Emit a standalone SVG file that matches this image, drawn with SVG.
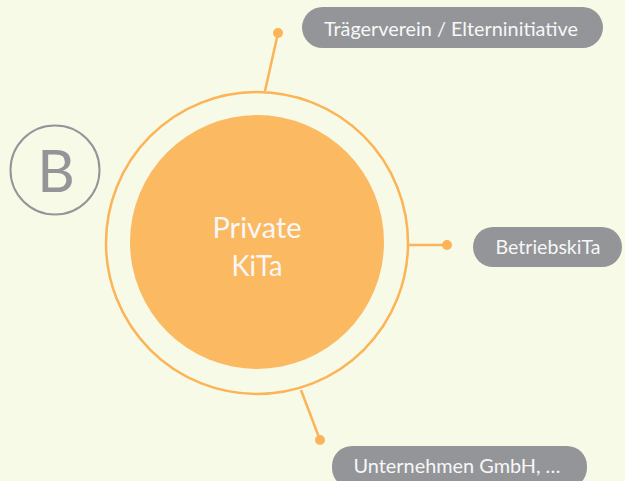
<svg xmlns="http://www.w3.org/2000/svg" width="625" height="481" viewBox="0 0 625 481">
<style>
.pill{fill:#939598}
.pt{font-family:Lato,"Open Sans",sans-serif;fill:#F7F7F7;text-anchor:middle}
.con{stroke:#FBB457;stroke-width:2.5;fill:none}
.dot{fill:#FBB457}
</style>
<rect width="625" height="481" fill="#F8FAE8"/>
<g id="connectors">
<line class="con" x1="265" y1="91" x2="278" y2="33"/>
<line class="con" x1="408" y1="245" x2="447" y2="245"/>
<line class="con" x1="301" y1="390" x2="320" y2="440"/>
<circle class="dot" cx="278" cy="33" r="5"/>
<circle class="dot" cx="447" cy="245" r="5"/>
<circle class="dot" cx="320" cy="440" r="5"/>
</g>
<g id="center">
<circle cx="257" cy="243" r="151" fill="none" stroke="#FBB457" stroke-width="2.5"/>
<circle cx="257" cy="242" r="127" fill="#FBBA62"/>
<text class="pt" x="257" y="238" font-size="28" textLength="89" lengthAdjust="spacingAndGlyphs">Private</text>
<text class="pt" x="257" y="276" font-size="28" textLength="51" lengthAdjust="spacingAndGlyphs">KiTa</text>
</g>
<g id="label-b">
<circle cx="55" cy="170" r="44.5" fill="none" stroke="#939598" stroke-width="2"/>
<text x="56" y="192" font-family="Lato,'Open Sans',sans-serif" font-size="58" fill="#939598" text-anchor="middle">B</text>
</g>
<g id="node-traeger">
<rect class="pill" x="302" y="7" width="301" height="41" rx="20.5"/>
<text class="pt" x="451" y="36" font-size="19" textLength="254" lengthAdjust="spacingAndGlyphs">Trägerverein / Elterninitiative</text>
</g>
<g id="node-betrieb">
<rect class="pill" x="473" y="227" width="149" height="40" rx="20"/>
<text class="pt" x="548" y="254" font-size="19" textLength="105" lengthAdjust="spacingAndGlyphs">BetriebskiTa</text>
</g>
<g id="node-unternehmen">
<rect class="pill" x="332" y="446" width="255" height="42" rx="20"/>
<text class="pt" x="457" y="473" font-size="19" textLength="207" lengthAdjust="spacingAndGlyphs">Unternehmen GmbH, …</text>
</g>
</svg>
